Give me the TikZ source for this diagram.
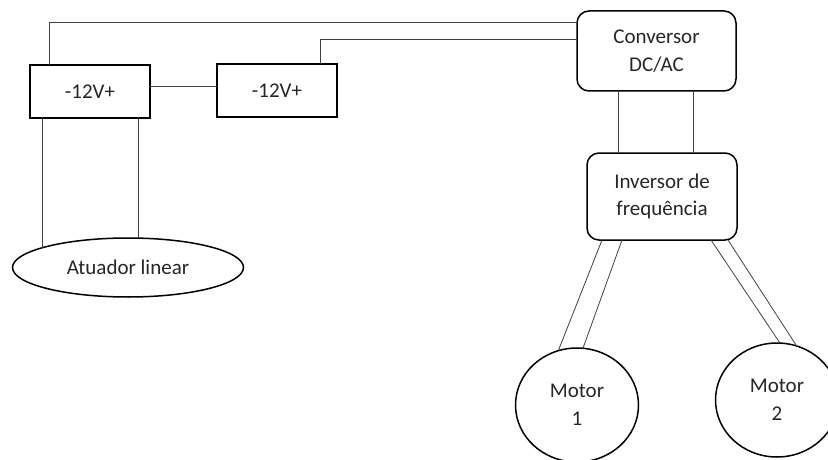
\documentclass[tikz,border=0pt]{standalone}
\usepackage{fontspec}
\setmainfont{Carlito}
\usepackage{tikz}
\usetikzlibrary{shapes.geometric}

\begin{document}
\begin{tikzpicture}[x=1pt, y=-1pt,
    every node/.style={font=\fontsize{21}{27.5}\selectfont, text=black!85, inner sep=0pt, outer sep=0pt, align=center},
    battery/.style={draw, line width=1.5pt, minimum width=120pt, minimum height=53pt},
    unit/.style={draw, line width=1.5pt, rounded corners=12pt},
    load/.style={draw, ellipse, line width=1.5pt},
    wire/.style={draw=black!75, line width=0.8pt}]
        \useasboundingbox (0,0) rectangle (828,460);

        % Batteries
        \node[battery] (batA) at (90, 91.5) {-12V+};
        \node[battery] (batB) at (277, 90.5) {-12V+};

        % Converter and inverter
        \node[unit, minimum width=159pt, minimum height=80pt] (conv) at (656.5, 51) {Conversor\\DC/AC};
        \node[unit, minimum width=150pt, minimum height=87pt] (inv) at (662, 196.5) {Inversor de\\frequência};

        % Loads
        \node[load, minimum width=231pt, minimum height=59pt] (atuador) at (128, 267.5) {Atuador linear};
        \node[load, minimum width=123pt, minimum height=114pt] (mot1) at (577, 405) {Motor\\1};
        \node[load, minimum width=123pt, minimum height=114pt] (mot2) at (777, 400) {Motor\\2};

        % Battery wiring
        \draw[wire] ([yshift=5pt]batA.east) -- ([yshift=5pt]batA.east -| batB.west);
        \draw[wire] ([xshift=-41pt]batA.north) |- ([yshift=29pt]conv.west);
        \draw[wire] ([xshift=43pt]batB.north) |- ([yshift=12pt]conv.west);
        \draw[wire] (atuador.167) -- (atuador.167 |- batA.south);
        \draw[wire] (atuador.70) -- (atuador.70 |- batA.south);

        % Converter to inverter
        \draw[wire] ([xshift=-38pt]conv.south) -- ([xshift=-38pt]conv.south |- inv.north);
        \draw[wire] ([xshift=37pt]conv.south) -- ([xshift=37pt]conv.south |- inv.north);

        % Inverter to motors
        \draw[wire] ([xshift=-60pt]inv.south) -- (mot1.109);
        \draw[wire] ([xshift=-40pt]inv.south) -- (mot1.84);
        \draw[wire] ([xshift=49pt]inv.south) -- (mot2.87);
        \draw[wire] ([xshift=66pt]inv.south) -- (mot2.70);
    \end{tikzpicture}
\end{document}
